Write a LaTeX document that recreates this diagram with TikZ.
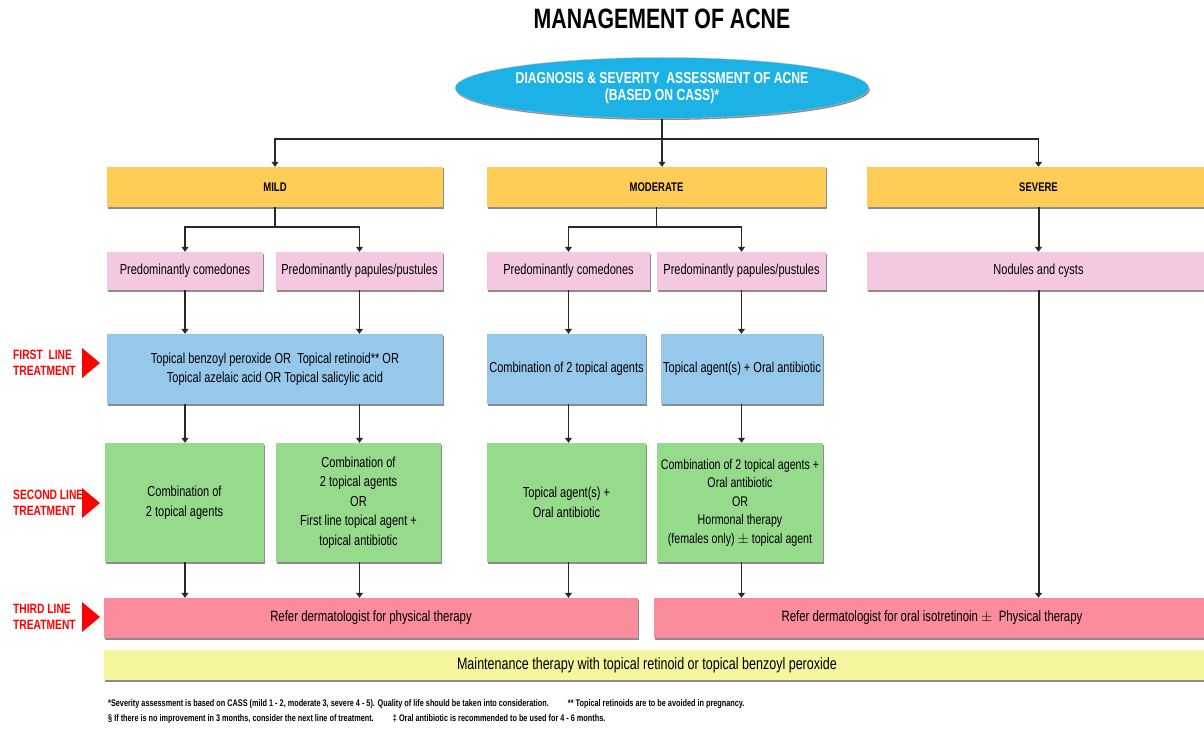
\documentclass[tikz,border=0pt]{standalone}
\usepackage{fontspec}
\setmainfont{Liberation Sans}[FakeStretch=0.76]
\usetikzlibrary{arrows.meta,shadows,shapes.geometric}
\definecolor{cyanE}{RGB}{28,178,230}
\definecolor{orangeH}{RGB}{255,204,88}
\definecolor{pinkB}{RGB}{245,200,226}
\definecolor{blueB}{RGB}{150,200,236}
\definecolor{greenB}{RGB}{150,218,140}
\definecolor{redB}{RGB}{250,140,156}
\definecolor{yellowB}{RGB}{245,245,158}
\definecolor{lineC}{RGB}{40,40,40}
\begin{document}
\begin{tikzpicture}[x=1pt,y=-1pt,
  shad/.style={drop shadow={shadow xshift=1pt,shadow yshift=-1.5pt,fill=black,opacity=0.45}},
  box/.style={rectangle, inner sep=0pt, align=center, shad, font=\fontsize{14.5}{19.5}\selectfont},
  hdr/.style={box, fill=orangeH, minimum height=40pt, font=\bfseries\fontsize{12.5}{14}\selectfont},
  pinkbox/.style={box, fill=pinkB, minimum height=38pt},
  bluebox/.style={box, fill=blueB, minimum height=70pt},
  greenbox/.style={box, fill=greenB, minimum height=119pt},
  redbox/.style={box, fill=redB, minimum height=40pt, font=\fontsize{15}{18}\selectfont},
  yelbox/.style={box, fill=yellowB, minimum height=30pt, font=\fontsize{16.5}{19}\selectfont},
  lbl/.style={text=red, font=\bfseries\fontsize{13.5}{16}\selectfont, align=left, inner sep=0pt},
  ln/.style={draw=lineC, line width=1.2pt},
  arr/.style={ln, -{Triangle[length=5pt,width=7pt]}},
  tarr/.style={arr, line width=2pt},
]
\fill[white] (0,0) rectangle (1204,730);
\useasboundingbox (0,0) rectangle (1204,730);

% title
\node[font=\bfseries\fontsize{28}{30}\selectfont, inner sep=0pt] (title) at (662,19) {MANAGEMENT OF ACNE};

% ellipse
\node[ellipse, fill=cyanE, draw=black!25, minimum width=410pt, minimum height=61pt, inner sep=0pt,
      text=white, align=center, font=\bfseries\fontsize{16}{17.5}\selectfont, shad] (diag) at (662,88)
      {DIAGNOSIS \& SEVERITY\ \ ASSESSMENT OF ACNE\\(BASED ON CASS)*};

% headers
\node[hdr, minimum width=336pt] (mild) at (275,187) {MILD};
\node[hdr, minimum width=339pt] (mod) at (656.5,187) {MODERATE};
\node[hdr, minimum width=343pt] (sev) at (1038.5,187) {SEVERE};

% pink row
\node[pinkbox, minimum width=156pt] (p1) at (185,271) {Predominantly comedones};
\node[pinkbox, minimum width=167pt] (p2) at (359.5,271) {Predominantly papules/pustules};
\node[pinkbox, minimum width=163pt] (p3) at (568.5,271) {Predominantly comedones};
\node[pinkbox, minimum width=169pt] (p4) at (741.5,271) {Predominantly papules/pustules};
\node[pinkbox, minimum width=343pt] (p5) at (1038.5,271) {Nodules and cysts};

% blue row
\node[bluebox, minimum width=336pt] (b1) at (275,369) {Topical benzoyl peroxide OR\ \ Topical retinoid** OR\\Topical azelaic acid OR Topical salicylic acid};
\node[bluebox, minimum width=159pt] (b2) at (566.5,369) {Combination of 2 topical agents};
\node[bluebox, minimum width=162pt] (b3) at (742,369) {Topical agent(s) + Oral antibiotic};

% green row
\node[greenbox, minimum width=159pt] (g1) at (184.5,502.5) {Combination of\\2 topical agents};
\node[greenbox, minimum width=165pt] (g2) at (358.5,502.5) {Combination of\\2 topical agents\\OR\\First line topical agent +\\topical antibiotic};
\node[greenbox, minimum width=159pt] (g3) at (566.5,502.5) {Topical agent(s) +\\Oral antibiotic};
\node[greenbox, minimum width=166pt, font=\fontsize{14}{18.5}\selectfont] (g4) at (740,502.5) {Combination of 2 topical agents +\\Oral antibiotic\\OR\\Hormonal therapy\\(females only) $\pm$ topical agent};

% third line
\node[redbox, minimum width=534pt] (t1) at (371,618) {Refer dermatologist for physical therapy};
\node[redbox, minimum width=556pt] (t2) at (932,618) {Refer dermatologist for oral isotretinoin $\pm$\ \ Physical therapy};

% maintenance
\node[yelbox, minimum width=1106pt] (mt) at (657,665) {Maintenance therapy with topical retinoid or topical benzoyl peroxide\hspace*{20pt}};

% left labels
\fill[red] (82,348) -- (100,363) -- (82,378) -- cycle;
\node[lbl, anchor=west] (l1) at (13,363) {FIRST\ \ LINE\\TREATMENT};
\fill[red] (82,488) -- (100,503) -- (82,518) -- cycle;
\node[lbl, anchor=west] (l2) at (13,503) {SECOND LINE\\TREATMENT};
\fill[red] (82,602) -- (100,617) -- (82,632) -- cycle;
\node[lbl, anchor=west] (l3) at (13,617) {THIRD LINE\\TREATMENT};

% footnotes
\node[anchor=west, inner sep=0pt, font=\bfseries\fontsize{9.6}{11}\selectfont] (f1) at (108,704)
  {*Severity assessment is based on CASS (mild 1 - 2, moderate 3, severe 4 - 5). Quality of life should be taken into consideration.\qquad ** Topical retinoids are to be avoided in pregnancy.};
\node[anchor=west, inner sep=0pt, font=\bfseries\fontsize{9.6}{11}\selectfont] (f2) at (108,719)
  {§ If there is no improvement in 3 months, consider the next line of treatment.\qquad ‡ Oral antibiotic is recommended to be used for 4 - 6 months.};

% connectors: top
\coordinate (hub) at (662,139);
\draw[ln] (diag.south) -- (hub);
\draw[arr] (hub) -| (mild.north);
\draw[arr] (hub) -- (hub |- mod.north);
\draw[arr] (hub) -| (sev.north);

% mild split
\coordinate (ms) at (275,227);
\draw[ln] (mild.south) -- (ms);
\draw[arr] (ms) -| (p1.north);
\draw[arr] (ms) -| (p2.north);
% moderate split
\coordinate (mds) at (656.5,227);
\draw[ln] (mod.south) -- (mds);
\draw[arr] (mds) -| (p3.north);
\draw[arr] (mds) -| (p4.north);
% severe
\draw[tarr] (sev.south) -- (p5.north);

% pink -> blue
\draw[arr] (p1.south) -- (p1.south |- b1.north);
\draw[arr] (p2.south) -- (p2.south |- b1.north);
\draw[arr] (p3.south) -- (p3.south |- b2.north);
\draw[arr] (p4.south) -- (p4.south |- b3.north);

% blue -> green
\draw[arr] (p1.south |- b1.south) -- (p1.south |- g1.north);
\draw[arr] (p2.south |- b1.south) -- (p2.south |- g2.north);
\draw[arr] (p3.south |- b2.south) -- (p3.south |- g3.north);
\draw[arr] (p4.south |- b3.south) -- (p4.south |- g4.north);

% green -> third
\draw[arr] (p1.south |- g1.south) -- (p1.south |- t1.north);
\draw[arr] (p2.south |- g2.south) -- (p2.south |- t1.north);
\draw[arr] (p3.south |- g3.south) -- (p3.south |- t1.north);
\draw[arr] (p4.south |- g4.south) -- (p4.south |- t2.north);
\draw[tarr] (p5.south) -- (p5.south |- t2.north);
\end{tikzpicture}
\end{document}
